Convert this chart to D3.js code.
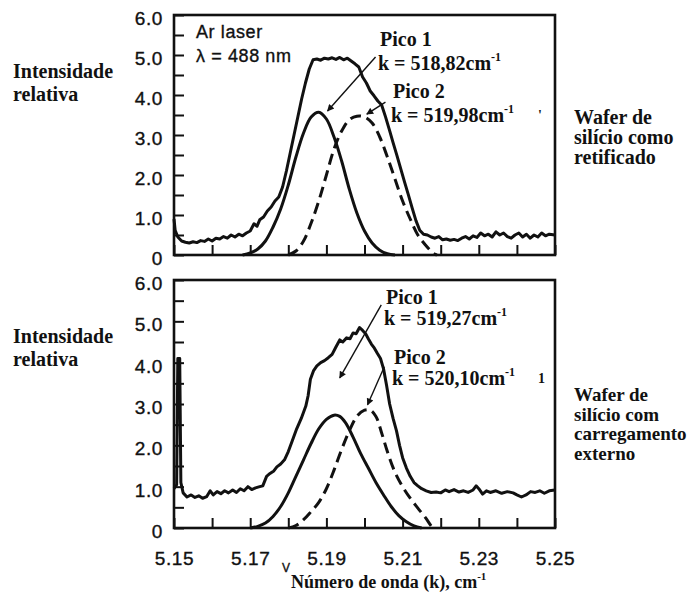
<!DOCTYPE html>
<html>
<head>
<meta charset="utf-8">
<script src="https://cdn.jsdelivr.net/npm/d3@7/dist/d3.min.js"></script>
<style>
  body { margin: 0; background: #fff; }
  svg { display: block; }
  .serif { font-family: "Liberation Serif", "Times New Roman", serif; font-weight: bold; fill: #111; }
  .sans { font-family: "Liberation Sans", Arial, sans-serif; fill: #111; stroke: #111; stroke-width: 0.35px; }
</style>
</head>
<body>
<svg id="chart" width="700" height="609"></svg>
<script>
// ---- data ----
var xTicks = [5.15, 5.16, 5.17, 5.18, 5.19, 5.20, 5.21, 5.22, 5.23, 5.24, 5.25];
var xTickLabels = [5.15, 5.17, 5.19, 5.21, 5.23, 5.25];
var yTicks = [0, 0.5, 1, 1.5, 2, 2.5, 3, 3.5, 4, 4.5, 5, 5.5, 6];

// upper panel: wafer as ground
var topTotal = [[5.1500,0.90],[5.1503,0.62],[5.1510,0.45],[5.1520,0.35],[5.1530,0.32],[5.1540,0.30],[5.1550,0.33],[5.1560,0.31],[5.1570,0.36],[5.1580,0.34],[5.1590,0.40],[5.1600,0.35],[5.1610,0.42],[5.1620,0.40],[5.1630,0.46],[5.1640,0.42],[5.1650,0.50],[5.1660,0.45],[5.1670,0.52],[5.1680,0.48],[5.1690,0.55],[5.1700,0.60],[5.1710,0.78],[5.1718,0.72],[5.1725,0.88],[5.1735,0.95],[5.1745,1.10],[5.1755,1.20],[5.1765,1.35],[5.1775,1.45],[5.1785,1.70],[5.1795,2.10],[5.1805,2.55],[5.1815,3.00],[5.1825,3.45],[5.1835,3.90],[5.1845,4.30],[5.1855,4.65],[5.1865,4.88],[5.1875,4.90],[5.1885,4.87],[5.1895,4.92],[5.1905,4.90],[5.1915,4.93],[5.1925,4.89],[5.1935,4.94],[5.1945,4.88],[5.1955,4.92],[5.1965,4.85],[5.1975,4.78],[5.1985,4.70],[5.1995,4.45],[5.2005,4.30],[5.2015,4.10],[5.2025,3.98],[5.2035,3.85],[5.2045,3.75],[5.2055,3.46],[5.2065,3.14],[5.2075,2.81],[5.2085,2.49],[5.2095,2.16],[5.2105,1.83],[5.2115,1.51],[5.2125,1.18],[5.2135,0.86],[5.2145,0.62],[5.2155,0.52],[5.2165,0.50],[5.2175,0.45],[5.2185,0.42],[5.2195,0.46],[5.2205,0.38],[5.2215,0.40],[5.2225,0.37],[5.2235,0.39],[5.2245,0.36],[5.2255,0.42],[5.2265,0.46],[5.2275,0.40],[5.2285,0.48],[5.2295,0.44],[5.2305,0.55],[5.2315,0.48],[5.2325,0.52],[5.2335,0.45],[5.2345,0.58],[5.2355,0.50],[5.2365,0.55],[5.2375,0.46],[5.2385,0.42],[5.2395,0.50],[5.2405,0.55],[5.2415,0.45],[5.2425,0.52],[5.2435,0.42],[5.2445,0.50],[5.2455,0.45],[5.2465,0.55],[5.2475,0.48],[5.2485,0.52],[5.2500,0.50]];
var topPeak1 = [[5.1680,0.00],[5.1700,0.05],[5.1720,0.15],[5.1740,0.35],[5.1760,0.70],[5.1780,1.15],[5.1800,1.75],[5.1820,2.45],[5.1840,3.05],[5.1860,3.45],[5.1880,3.57],[5.1900,3.40],[5.1920,2.95],[5.1940,2.35],[5.1960,1.65],[5.1980,1.05],[5.2000,0.60],[5.2020,0.30],[5.2040,0.12],[5.2060,0.03],[5.2080,0.00]];
var topPeak2 = [[5.1800,0.00],[5.1820,0.10],[5.1840,0.35],[5.1860,0.80],[5.1880,1.35],[5.1900,2.00],[5.1920,2.65],[5.1940,3.10],[5.1960,3.38],[5.1980,3.47],[5.2000,3.45],[5.2020,3.30],[5.2040,2.95],[5.2060,2.45],[5.2080,1.90],[5.2100,1.35],[5.2120,0.90],[5.2140,0.50],[5.2160,0.25],[5.2180,0.05],[5.2190,0.00]];

// lower panel: wafer under external load
var bottomTotal = [[5.1500,0.95],[5.1507,1.05],[5.1510,4.10],[5.1515,4.10],[5.1518,1.10],[5.1524,0.85],[5.1534,0.75],[5.1545,0.80],[5.1555,0.74],[5.1565,0.78],[5.1575,0.72],[5.1586,0.76],[5.1595,0.90],[5.1603,0.80],[5.1613,0.88],[5.1623,0.83],[5.1633,0.90],[5.1643,0.85],[5.1654,0.92],[5.1664,0.86],[5.1674,0.95],[5.1684,0.90],[5.1694,1.00],[5.1704,0.93],[5.1714,0.97],[5.1725,1.00],[5.1733,1.02],[5.1743,1.25],[5.1752,1.32],[5.1762,1.38],[5.1770,1.48],[5.1780,1.55],[5.1790,1.65],[5.1800,1.85],[5.1810,2.10],[5.1822,2.40],[5.1834,2.65],[5.1846,2.95],[5.1852,3.20],[5.1858,3.60],[5.1866,3.80],[5.1875,3.92],[5.1885,4.00],[5.1895,4.05],[5.1905,4.12],[5.1915,4.20],[5.1925,4.38],[5.1935,4.55],[5.1943,4.50],[5.1953,4.60],[5.1962,4.58],[5.1970,4.72],[5.1978,4.70],[5.1987,4.85],[5.1995,4.78],[5.2003,4.70],[5.2010,4.58],[5.2018,4.45],[5.2026,4.35],[5.2034,4.22],[5.2042,4.10],[5.2050,3.85],[5.2058,3.45],[5.2066,3.00],[5.2075,2.65],[5.2084,2.35],[5.2092,2.00],[5.2100,1.70],[5.2110,1.45],[5.2120,1.25],[5.2130,1.10],[5.2140,1.02],[5.2150,0.95],[5.2162,0.90],[5.2175,0.86],[5.2188,0.87],[5.2200,0.85],[5.2212,0.92],[5.2222,0.88],[5.2235,0.93],[5.2248,0.87],[5.2260,0.90],[5.2272,0.86],[5.2285,0.92],[5.2293,1.02],[5.2300,0.95],[5.2310,0.82],[5.2320,0.90],[5.2330,0.86],[5.2345,0.90],[5.2360,0.84],[5.2375,0.88],[5.2390,0.85],[5.2400,0.80],[5.2412,0.75],[5.2424,0.80],[5.2436,0.88],[5.2448,0.86],[5.2460,0.90],[5.2472,0.84],[5.2485,0.90],[5.2500,0.92]];
var bottomPeak1 = [[5.1700,0.00],[5.1720,0.04],[5.1740,0.12],[5.1760,0.28],[5.1780,0.52],[5.1800,0.85],[5.1820,1.25],[5.1840,1.65],[5.1860,2.05],[5.1880,2.40],[5.1900,2.63],[5.1920,2.73],[5.1935,2.70],[5.1950,2.55],[5.1970,2.20],[5.1990,1.80],[5.2010,1.45],[5.2030,1.10],[5.2050,0.80],[5.2070,0.52],[5.2090,0.30],[5.2110,0.15],[5.2130,0.05],[5.2150,0.00]];
var bottomPeak2 = [[5.1800,0.00],[5.1820,0.06],[5.1840,0.20],[5.1860,0.40],[5.1880,0.62],[5.1900,0.95],[5.1920,1.40],[5.1940,1.90],[5.1960,2.35],[5.1980,2.70],[5.2000,2.85],[5.2015,2.85],[5.2030,2.70],[5.2045,2.30],[5.2060,1.85],[5.2080,1.35],[5.2100,1.00],[5.2120,0.72],[5.2140,0.48],[5.2160,0.25],[5.2175,0.05],[5.2180,0.00]];

// annotation arrows [x from, y from, x to, y to] in data units
var topArrows = [[5.2029, 4.95, 5.1903, 3.60], [5.2055, 3.82, 5.2006, 3.52]];
var bottomArrows = [[5.2044, 5.40, 5.1935, 3.63], [5.2052, 3.90, 5.2008, 2.98]];

var topPeakLabels = ["Pico 1", "518,82", "Pico 2", "519,98"];
var bottomPeakLabels = ["Pico 1", "519,27", "Pico 2", "520,10"];
var topSideLabel = ["Wafer de", "silício como", "retificado"];
var bottomSideLabel = ["Wafer de", "silício com", "carregamento", "externo"];

var svg = d3.select("#chart");

var x = d3.scaleLinear().domain([5.15, 5.25]).range([174, 555]);

// arrow marker
svg.append("defs")
   .append("marker")
   .attr("id","arrowhead")
   .attr("viewBox","0 -5 10 10")
   .attr("refX",9)
   .attr("refY",0)
   .attr("orient","auto")
   .attr("markerWidth",9)
   .attr("markerHeight",7)
   .attr("markerUnits","userSpaceOnUse")
   .append("path")
   .attr("d","M 0,-5 L 10,0 L 0,5 Z")
   .attr("fill","#111");

// draw one panel
function createpanel(cfg){
	var y = d3.scaleLinear().domain([0, 6]).range([cfg.bottom, cfg.top]);
	var g = svg.append("g").attr("class","panel");

	// left axis, ticks inside
	var yaxis = g.append("g")
	  .attr("transform","translate(" + x(5.15) + ",0)")
	  .call(d3.axisLeft(y)
	          .tickValues(yTicks)
	          .tickSizeInner(-10)
	          .tickSizeOuter(0)
	          .tickPadding(11)
	          .tickFormat(function(d){
	          	if (d === 0) return "0";
	          	return d % 1 === 0 ? d.toFixed(1) : "";
	          }));
	yaxis.select(".domain").remove();
	yaxis.selectAll("line").attr("stroke","#111").attr("stroke-width",2);
	yaxis.selectAll("text")
	  .attr("class","sans")
	  .attr("dy","0.5em")
	  .style("font-size","19px")
	  .style("letter-spacing","0.6px");

	// bottom axis, ticks inside
	var xaxis = g.append("g")
	  .attr("transform","translate(0," + cfg.bottom + ")")
	  .call(d3.axisBottom(x)
	          .tickValues(xTicks)
	          .tickSizeInner(-10)
	          .tickSizeOuter(0)
	          .tickPadding(24)
	          .tickFormat(function(d){
	          	if (!cfg.xlabels) return "";
	          	var hit = xTickLabels.some(function(v){ return Math.abs(v - d) < 1e-6; });
	          	return hit ? d.toFixed(2) : "";
	          }));
	xaxis.select(".domain").remove();
	xaxis.selectAll("line").attr("stroke","#111").attr("stroke-width",2);
	xaxis.selectAll("text")
	  .attr("class","sans")
	  .style("font-size","19px")
	  .style("letter-spacing","0.6px");

	// curves
	var line = d3.line()
	  .x(function(d){ return x(d[0]); })
	  .y(function(d){ return y(d[1]); });
	var smooth = d3.line()
	  .x(function(d){ return x(d[0]); })
	  .y(function(d){ return y(d[1]); })
	  .curve(d3.curveCatmullRom);

	g.append("path")
	  .datum(cfg.total)
	  .attr("d", line)
	  .attr("fill","none")
	  .attr("stroke","#111")
	  .attr("stroke-width",3)
	  .attr("stroke-linejoin","round");

	g.append("path")
	  .datum(cfg.peak1)
	  .attr("d", smooth)
	  .attr("fill","none")
	  .attr("stroke","#111")
	  .attr("stroke-width",3);

	g.append("path")
	  .datum(cfg.peak2)
	  .attr("d", smooth)
	  .attr("fill","none")
	  .attr("stroke","#111")
	  .attr("stroke-width",3)
	  .attr("stroke-dasharray","11,6");

	// arrows
	g.selectAll(".arrow")
	  .data(cfg.arrows).enter()
	  .append("line")
	  .attr("class","arrow")
	  .attr("x1", function(d){ return x(d[0]); })
	  .attr("y1", function(d){ return y(d[1]); })
	  .attr("x2", function(d){ return x(d[2]); })
	  .attr("y2", function(d){ return y(d[3]); })
	  .attr("stroke","#111")
	  .attr("stroke-width",1.4)
	  .attr("marker-end","url(#arrowhead)");

	// frame
	g.append("rect")
	  .attr("x", x(5.15))
	  .attr("y", cfg.top)
	  .attr("width", x(5.25) - x(5.15))
	  .attr("height", cfg.bottom - cfg.top)
	  .attr("fill","none")
	  .attr("stroke","#111")
	  .attr("stroke-width",2.6);

	// y title
	var yt = g.append("text").attr("class","serif").style("font-size","20px");
	yt.append("tspan").attr("x",13).attr("y",cfg.top + 63).text("Intensidade");
	yt.append("tspan").attr("x",13).attr("y",cfg.top + 86).text("relativa");

	// peak labels
	var pl = cfg.peakLabels;
	g.append("text").attr("class","serif").style("font-size","20px")
	  .attr("x", cfg.p1x).attr("y", cfg.p1y).text(pl[0]);
	createktext(g, cfg.p1x - 2, cfg.p1y + cfg.kgap, pl[1]);
	g.append("text").attr("class","serif").style("font-size","20px")
	  .attr("x", cfg.p2x).attr("y", cfg.p2y).text(pl[2]);
	createktext(g, cfg.p2x - 2, cfg.p2y + cfg.kgap, pl[3]);

	// stray mark from the original print
	g.append("text").attr("class","serif").style("font-size","14px")
	  .attr("x", 538).attr("y", cfg.p2y + cfg.kgap - 2).text(cfg.stray);

	// side label
	var st = g.append("text").attr("class","serif").style("font-size", cfg.sideSize);
	st.selectAll("tspan")
	  .data(cfg.side).enter()
	  .append("tspan")
	  .attr("x",574)
	  .attr("y", function(d,i){ return cfg.sideY + i*cfg.sideGap; })
	  .text(function(d){ return d; });
};

// k = ...cm-1 label
function createktext(g, px, py, val){
	var t = g.append("text").attr("class","serif").style("font-size","20px")
	  .attr("x", px).attr("y", py);
	t.append("tspan").text("k = " + val + "cm");
	t.append("tspan").attr("dy",-9).style("font-size","12px").text("-1");
};

createpanel({
	top: 15, bottom: 255,
	total: topTotal, peak1: topPeak1, peak2: topPeak2,
	arrows: topArrows, peakLabels: topPeakLabels,
	p1x: 380, p1y: 46, p2x: 393, p2y: 98, kgap: 24,
	side: topSideLabel, sideY: 124, sideGap: 20, sideSize: "20px",
	stray: "'", xlabels: false
});

createpanel({
	top: 280, bottom: 528,
	total: bottomTotal, peak1: bottomPeak1, peak2: bottomPeak2,
	arrows: bottomArrows, peakLabels: bottomPeakLabels,
	p1x: 386, p1y: 304, p2x: 394, p2y: 364, kgap: 21,
	side: bottomSideLabel, sideY: 401, sideGap: 19.5, sideSize: "19px",
	stray: "1", xlabels: true
});

// laser note
var note = svg.append("text").attr("class","sans").style("font-size","18px").style("letter-spacing","0.6px");
note.append("tspan").attr("x",196).attr("y",38).text("Ar laser");
note.append("tspan").attr("x",196).attr("y",62).text("λ = 488 nm");

// x title
svg.append("text").attr("class","sans").style("font-size","12px")
   .attr("x",282).attr("y",572).text("V");
var xt = svg.append("text").attr("class","serif").style("font-size","18px")
   .attr("x",291).attr("y",588);
xt.append("tspan").text("Número de onda (k), cm");
xt.append("tspan").attr("dy",-8).style("font-size","11px").text("-1");
</script>
</body>
</html>
